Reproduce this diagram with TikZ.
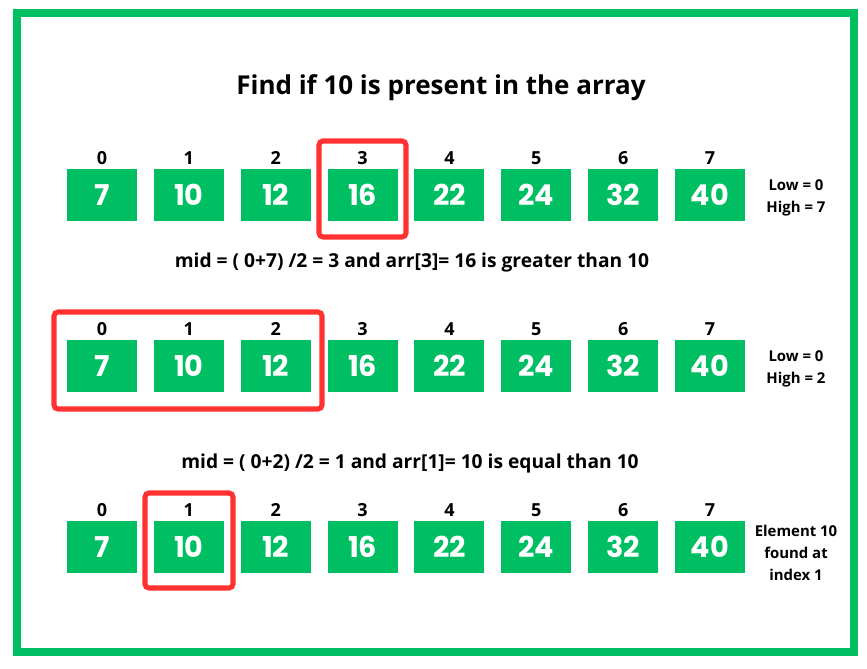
\documentclass[tikz,border=0pt]{standalone}
\usepackage{fontspec}
\setmainfont{Open Sans}
\newfontfamily\numfont{Poppins}
\usetikzlibrary{positioning}
\definecolor{cellgreen}{RGB}{0,191,99}
\definecolor{markred}{RGB}{255,49,49}

\begin{document}
\begin{tikzpicture}[x=0.75pt,y=-0.75pt]
    \tikzset{
    cell/.style={
        fill=cellgreen, minimum width=52.5pt, minimum height=39pt,
        inner sep=0pt, text=white, font=\numfont\bfseries\fontsize{21.5}{24}\selectfont
    },
    idx/.style={font=\bfseries\fontsize{13.5}{14}\selectfont, inner sep=0pt},
    note/.style={font=\bfseries\fontsize{11.2}{16.3}\selectfont, align=center, inner sep=0pt},
    midtext/.style={font=\bfseries\fontsize{14.4}{16}\selectfont, inner sep=0pt},
    hlbox/.style={draw=markred, line width=3.8pt, rounded corners=3pt}
    }
        \useasboundingbox (0,0) rectangle (867,668);
        \draw[cellgreen, line width=6pt] (17,13) rectangle (854,652);

        \node (title) [font=\bfseries\fontsize{19.5}{22}\selectfont] at (441,88) {Find if 10 is present in the array};

        % three rows of the array
        \foreach \r/\y in {1/195, 2/366, 3/547} {
            \foreach \v [count=\i from 0] in {7,10,12,16,22,24,32,40} {
                \node (r\r b\i) [cell] at ({102+86.86*\i},\y) {\v};
                \node (r\r i\i) [idx, above=3pt of r\r b\i] {\i};
            }
        }

        \node (lh1) [note] at (796,198) {Low = 0\\High = 7};
        \node (lh2) [note] at (796,369) {Low = 0\\High = 2};
        \node (found) [note] at (796,553) {Element 10\\found at\\index 1};

        \node (mid1) [midtext] at (412,263) {mid = ( 0+7) /2 = 3 and arr[3]= 16 is greater than 10};
        \node (mid2) [midtext] at (410,464) {mid = ( 0+2) /2 = 1 and arr[1]= 10 is equal than 10};

        % highlighted parts
        \draw[hlbox] (319,141) rectangle (406,237);
        \draw[hlbox] (54,312) rectangle (322,409);
        \draw[hlbox] (145,493) rectangle (233,588);
\end{tikzpicture}
\end{document}
